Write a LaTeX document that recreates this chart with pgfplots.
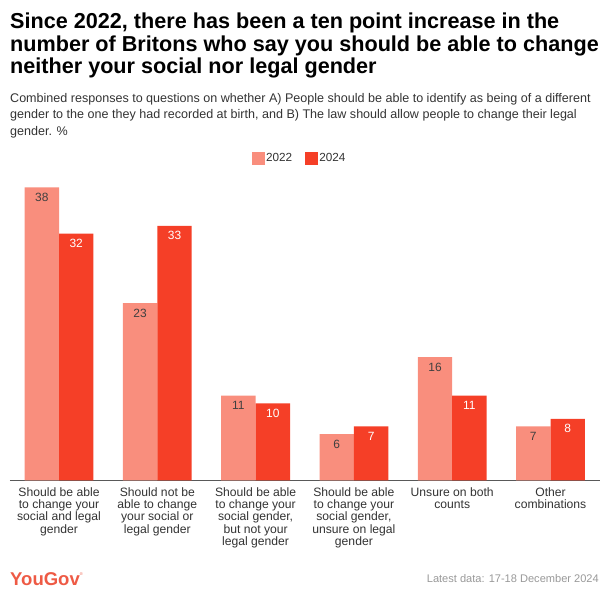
\documentclass[border=0pt]{standalone}
\usepackage{pgfplots}
\pgfplotsset{compat=1.18}
\usepackage{fontspec}
\setmainfont{Liberation Sans}
\definecolor{c22}{HTML}{F98E7D}
\definecolor{c24}{HTML}{F53F27}
\definecolor{ctxt}{HTML}{333333}
\definecolor{cfoot}{HTML}{999999}
\definecolor{clogo}{HTML}{EE5A45}
\begin{document}
\begin{tikzpicture}[x=1bp,y=1bp]
\path[use as bounding box] (0,0) rectangle (609,600);
% title
\begin{scope}[every node/.style={anchor=base west, inner sep=0pt, font=\fontsize{21.7}{25}\selectfont\bfseries, text=black}]
\node at (10,571) {Since 2022, there has been a ten point increase in the};
\node at (10,548) {number of Britons who say you should be able to change};
\node at (10,526) {neither your social nor legal gender};
\end{scope}
% subtitle
\begin{scope}[every node/.style={anchor=base west, inner sep=0pt, font=\fontsize{12.6}{14}\selectfont, text=ctxt}]
\node at (10,497.5) {Combined responses to questions on whether A) People should be able to identify as being of a different};
\node at (10,481) {gender to the one they had recorded at birth, and B) The law should allow people to change their legal};
\node at (10,464.5) {gender. \%};
\end{scope}
% footer
\node[anchor=base west, inner sep=0pt, font=\fontsize{18.6}{20}\selectfont\bfseries, text=clogo] at (10,14) {YouGov\raisebox{1.1ex}{\fontsize{4}{4}\selectfont\mdseries\textregistered}};
\node[anchor=base east, inner sep=0pt, font=\fontsize{11.1}{13}\selectfont, text=cfoot] at (599,17) {Latest data: 17-18 December 2024};
\begin{axis}[
  at={(9.85bp,119.5bp)}, anchor=south west,
  scale only axis, width=589.8bp, height=308.6bp,
  xmin=-0.5, xmax=5.5, ymin=0, ymax=40,
  ybar=0pt, bar width=34.4bp,
  axis x line*=bottom, axis y line=none,
  x axis line style={draw=black!65, line width=0.8bp},
  /pgf/number format/assume math mode=true,
  xtick={0,1,2,3,4,5}, major tick length=0pt,
  xticklabels={{Should be able\\to change your\\social and legal\\gender},
               {Should not be\\able to change\\your social or\\legal gender},
               {Should be able\\to change your\\social gender,\\but not your\\legal gender},
               {Should be able\\to change your\\social gender,\\unsure on legal\\gender},
               {Unsure on both\\counts},
               {Other\\combinations}},
  xticklabel style={font=\fontsize{12.2}{12.4}\selectfont, align=center, text=ctxt, inner sep=0pt, anchor=north, yshift=-6.5bp},
  nodes near coords,
  nodes near coords style={font=\fontsize{12}{14}\selectfont, anchor=north, inner sep=0pt, yshift=-5.5bp},
  legend columns=2,
  legend style={at={(0.4907,1)}, anchor=center, yshift=13.5bp, draw=none, fill=none,
    font=\fontsize{11.8}{14}\selectfont, text=ctxt,
    /tikz/every even column/.append style={column sep=11bp},
    nodes={inner sep=1.5bp}},
  legend image code/.code={\path[#1, draw=none] (0bp,-6.5bp) rectangle (13bp,6.5bp);},
]
\addplot[fill=c22, draw=none, nodes near coords style={text=black!75}] coordinates {(0,38) (1,23) (2,11) (3,6) (4,16) (5,7)};
\addplot[fill=c24, draw=none, nodes near coords style={text=white}] coordinates {(0,32) (1,33) (2,10) (3,7) (4,11) (5,8)};
\legend{2022,2024}
\end{axis}
\end{tikzpicture}
\end{document}
